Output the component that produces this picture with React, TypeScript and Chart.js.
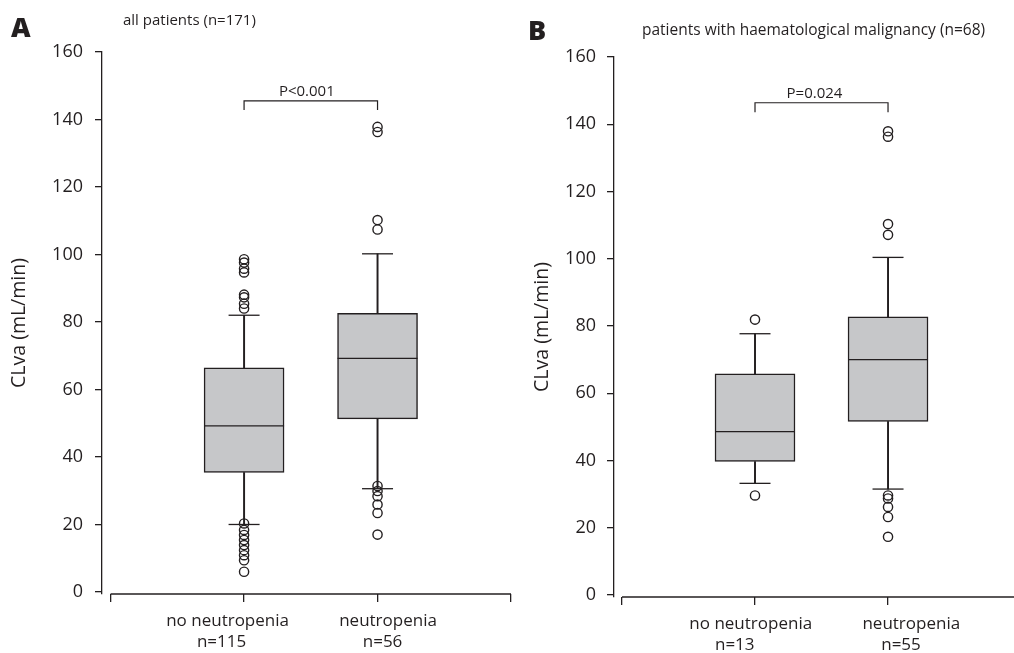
import React, { useEffect, useRef } from 'react';
import { Chart, registerables } from 'chart.js';

Chart.register(...registerables);

// ---------- shared ----------
const categoryPositions = [1, 2];
const categoryNames = ['no neutropenia', 'neutropenia'];
const yTickValues = [0, 20, 40, 60, 80, 100, 120, 140, 160];

// ---------- Panel A: all patients (n=171) ----------
const countsA = ['n=115', 'n=56'];
const q1A = [35.4, 51.3];
const medianA = [49.2, 69.2];
const q3A = [66.4, 82.6];
const whiskerLowA = [20.0, 30.6];
const whiskerHighA = [82.0, 100.2];
const outliersNoNeutropeniaA = [98.6, 97.6, 95.8, 94.7, 88.1, 87.3, 85.4, 84.0, 20.3, 18.4, 16.9, 15.4, 13.9, 12.4, 10.9, 9.4, 6.0];
const outliersNeutropeniaA = [137.8, 136.3, 110.2, 107.4, 31.4, 29.9, 28.4, 25.9, 23.4, 17.0];
const pTextA = 'P<0.001';
const bracketTopA = 145.5;
const bracketFootA = 142.8;

// ---------- Panel B: haematological malignancy (n=68) ----------
const countsB = ['n=13', 'n=55'];
const q1B = [39.7, 51.6];
const medianB = [48.6, 70.0];
const q3B = [65.8, 82.7];
const whiskerLowB = [33.2, 31.5];
const whiskerHighB = [77.7, 100.4];
const outliersNoNeutropeniaB = [81.9, 29.6];
const outliersNeutropeniaB = [137.9, 136.3, 110.3, 107.1, 29.6, 28.7, 26.2, 23.2, 17.3];
const pTextB = 'P=0.024';
const bracketTopB = 146.4;
const bracketFootB = 143.6;

const INK = '#231f20';
const BOX_FILL = '#c6c7c9';
const FONT = '"Open Sans", "Noto Sans", sans-serif';

Chart.defaults.font.family = FONT;
Chart.defaults.color = INK;

const axisAndLabelPlugin = {
  id: 'axisAndLabel',
  afterDraw(chart: any, _args: any, opts: any) {
    const { ctx, chartArea } = chart;
    const x = chart.scales.x;
    const y = chart.scales.y;
    const x0 = x.getPixelForValue(0);
    const x1 = Math.min(x.getPixelForValue(opts.axisTo), chart.width);
    ctx.save();
    ctx.strokeStyle = INK;
    ctx.lineWidth = 1.3;
    ctx.beginPath();
    ctx.moveTo(x0, chartArea.bottom);
    ctx.lineTo(x1, chartArea.bottom);
    ctx.stroke();
    ctx.font = '15px ' + FONT;
    ctx.fillStyle = INK;
    ctx.textAlign = 'center';
    ctx.textBaseline = 'alphabetic';
    ctx.fillText(opts.pText, x.getPixelForValue(1.5) + opts.pShift, y.getPixelForValue(opts.bracketTop) - 5);
    ctx.restore();
  },
};

function labelAxis(p: any, weight: number, labels: string[], shifts: number[], height: number, padding: number) {
  return {
    type: 'linear',
    position: 'bottom',
    weight,
    min: p.xMin,
    max: p.xMax,
    offset: false,
    afterBuildTicks: (s: any) => {
      s.ticks = categoryPositions.map((v, i) => ({ value: v + shifts[i] / p.unitPx }));
    },
    afterFit: (s: any) => {
      s.height = height;
    },
    border: { display: false },
    grid: { display: false, drawTicks: false, drawOnChartArea: false },
    ticks: {
      autoSkip: false,
      maxRotation: 0,
      padding,
      color: INK,
      font: { size: 17, lineHeight: 1.3 },
      callback: (_v: number, i: number) => labels[i],
    },
  };
}

function makeConfig(p: any) {
  const boxes = categoryPositions.map((x, i) => ({ x, y: [p.q1[i], p.q3[i]] }));
  const whiskers: any[] = [];
  const caps: any[] = [];
  categoryPositions.forEach((x, i) => {
    whiskers.push({ x, y: [p.q3[i], p.hi[i]] });
    whiskers.push({ x, y: [p.lo[i], p.q1[i]] });
    caps.push({ x, y: p.hi[i] });
    caps.push({ x, y: p.lo[i] });
  });
  const medians = categoryPositions.map((x, i) => ({ x, y: p.med[i] }));
  const outliers = [
    ...p.outNo.map((v: number) => ({ x: categoryPositions[0], y: v })),
    ...p.outNeu.map((v: number) => ({ x: categoryPositions[1], y: v })),
  ];
  const bracket = [
    { x: categoryPositions[0], y: p.bFoot },
    { x: categoryPositions[0], y: p.bTop },
    { x: categoryPositions[1], y: p.bTop },
    { x: categoryPositions[1], y: p.bFoot },
  ];

  return {
    type: 'bar',
    data: {
      datasets: [
        {
          type: 'scatter',
          data: medians,
          pointStyle: 'line',
          pointRadius: 40,
          pointHoverRadius: 40,
          borderColor: INK,
          borderWidth: 1.3,
          backgroundColor: INK,
        },
        {
          type: 'scatter',
          data: outliers,
          pointStyle: 'circle',
          pointRadius: 4.6,
          pointHoverRadius: 4.6,
          borderColor: INK,
          borderWidth: 1.4,
          backgroundColor: 'rgba(0,0,0,0)',
        },
        {
          type: 'scatter',
          data: caps,
          pointStyle: 'line',
          pointRadius: 15.5,
          pointHoverRadius: 15.5,
          borderColor: INK,
          borderWidth: 1.3,
          backgroundColor: INK,
        },
        {
          type: 'bar',
          data: boxes,
          grouped: false,
          barThickness: 80,
          backgroundColor: BOX_FILL,
          borderColor: INK,
          borderWidth: 1.5,
          borderSkipped: false,
        },
        {
          type: 'bar',
          data: whiskers,
          grouped: false,
          barThickness: 1.3,
          backgroundColor: INK,
          borderWidth: 0,
        },
        {
          type: 'line',
          data: bracket,
          borderColor: INK,
          borderWidth: 1.2,
          pointRadius: 0,
          tension: 0,
          fill: false,
        },
      ],
    },
    options: {
      responsive: false,
      animation: false,
      devicePixelRatio: 1,
      events: [],
      layout: { autoPadding: false, padding: { left: 0, top: p.padTop, right: p.padRight, bottom: 0 } },
      plugins: {
        legend: { display: false },
        tooltip: { enabled: false },
        axisAndLabel: { axisTo: p.axisTo, pText: p.pText, bracketTop: p.bTop, pShift: p.pShift },
      },
      scales: {
        x: {
          type: 'linear',
          position: 'bottom',
          weight: 0,
          min: p.xMin,
          max: p.xMax,
          offset: false,
          afterBuildTicks: (s: any) => {
            s.ticks = p.xTicks.map((v: number) => ({ value: v }));
          },
          afterFit: (s: any) => {
            s.height = 8;
          },
          border: { display: false },
          grid: {
            offset: false,
            drawOnChartArea: false,
            drawTicks: true,
            tickLength: 8,
            color: INK,
            lineWidth: 1.3,
          },
          ticks: { display: false },
        },
        xNames: labelAxis(p, 1, categoryNames, p.nameShift, 29, 8),
        xCounts: labelAxis(p, 2, p.counts, p.countShift, p.countHeight, 0),
        y: {
          type: 'linear',
          min: -0.6,
          max: 160,
          afterBuildTicks: (s: any) => {
            s.ticks = yTickValues.map((v) => ({ value: v }));
          },
          afterFit: (s: any) => {
            s.width = p.yWidth;
          },
          border: { display: true, color: INK, width: 1.3 },
          grid: {
            drawOnChartArea: false,
            drawTicks: true,
            tickLength: 7,
            color: INK,
            lineWidth: 1.3,
          },
          ticks: {
            padding: p.yPad,
            color: INK,
            font: { size: 18 },
          },
          title: {
            display: true,
            text: 'CLva (mL/min)',
            color: INK,
            font: { size: 19.5, lineHeight: 1.2 },
            padding: { top: p.titlePad, bottom: 0 },
          },
        },
      },
    },
    plugins: [axisAndLabelPlugin],
  };
}

const panelA = {
  q1: q1A, med: medianA, q3: q3A, lo: whiskerLowA, hi: whiskerHighA,
  outNo: outliersNoNeutropeniaA, outNeu: outliersNeutropeniaA,
  counts: countsA, pText: pTextA, bTop: bracketTopA, bFoot: bracketFootA,
  padTop: 52, padRight: 19, xMin: -0.0645, xMax: 3, axisTo: 3, xTicks: [0, 1, 2, 3],
  unitPx: 133.5, nameShift: [-16.5, 10.5], countShift: [-22.5, 5], countHeight: 22, pShift: -4,
  yWidth: 102, yPad: 12, titlePad: 7.3,
};

const panelB = {
  q1: q1B, med: medianB, q3: q3B, lo: whiskerLowB, hi: whiskerHighB,
  outNo: outliersNoNeutropeniaB, outNeu: outliersNeutropeniaB,
  counts: countsB, pText: pTextB, bTop: bracketTopB, bFoot: bracketFootB,
  padTop: 57, padRight: 0, xMin: -0.06, xMax: 2.947, axisTo: 2.947, xTicks: [0, 1, 2],
  unitPx: 133.3, nameShift: [-4.3, 23.3], countShift: [-20.3, 13], countHeight: 19, pShift: -7,
  yWidth: 84, yPad: 11, titlePad: 0.7,
};

function Panel({ cfg, left, width }: { cfg: any; left: number; width: number }) {
  const ref = useRef<HTMLCanvasElement>(null);
  useEffect(() => {
    if (!ref.current) return;
    const chart = new Chart(ref.current, makeConfig(cfg) as any);
    return () => chart.destroy();
  }, [cfg]);
  return (
    <canvas
      ref={ref}
      width={width}
      height={653}
      style={{ position: 'absolute', left, top: 0, width, height: 653, display: 'block' }}
    />
  );
}

const textBase: React.CSSProperties = {
  position: 'absolute',
  fontFamily: FONT,
  color: INK,
  lineHeight: 1,
  whiteSpace: 'nowrap',
};

export default function App() {
  return (
    <div style={{ position: 'absolute', left: 0, top: 0, width: 1014, height: 653, background: '#fff', overflow: 'hidden' }}>
      <Panel cfg={panelA} left={0} width={530} />
      <Panel cfg={panelB} left={530} width={484} />
      <div style={{ ...textBase, left: 11, top: 13, fontSize: 27, fontWeight: 800 }}>A</div>
      <div style={{ ...textBase, left: 123, top: 12, fontSize: 15 }}>all patients (n=171)</div>
      <div style={{ ...textBase, left: 528, top: 16, fontSize: 27, fontWeight: 800 }}>B</div>
      <div style={{ ...textBase, left: 642, top: 22, fontSize: 15.5 }}>patients with haematological malignancy (n=68)</div>
    </div>
  );
}
